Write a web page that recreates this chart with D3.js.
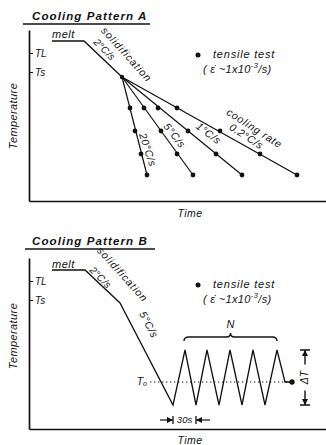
<!DOCTYPE html>
<html>
<head>
<meta charset="utf-8">
<script src="https://cdnjs.cloudflare.com/ajax/libs/d3/7.8.5/d3.min.js"></script>
<style>
  body { margin: 0; background: #fff; }
  svg text { font-family: "Liberation Sans", "DejaVu Sans", sans-serif; font-style: italic; fill: #111; }
  .axis path, .axis line { stroke: #111; }
</style>
</head>
<body>
<svg id="chart" width="326" height="445"></svg>
<script>
// schematic, arbitrary units (no scale on either axis)
var TIME_MAX = 297, TEMP_MAX = 171;

var titles = ["Cooling Pattern A", "Cooling Pattern B"];
var tempTickLabels = ["TL", "Ts"];
var tempTickValues = [148, 129];

// pattern A: melt -> solidification, then branches at different cooling rates
var meltTimesA = [23, 55, 93];
var meltTempsA = [160, 160, 124];
var rateLabelsA = ["20°C/s", "5°C/s", "1°C/s", "0.2°C/s"];
var testTempsA = [93, 70, 47, 26];
var testTimesA = [
    [101, 106, 112, 118],
    [115, 132, 148, 164],
    [129, 159, 187, 213],
    [148, 191, 231, 268]
];

// pattern B: melt -> solidification -> 5°C/s, then thermal cycles about T0
var meltTimesB = [23, 56, 91, 144];
var meltTempsB = [159, 159, 126, 24];
var cycleTimesB = [144, 156, 167, 178, 190, 201, 213, 224, 236, 248, 256, 263];
var cycleTempsB = [24, 79, 24, 79, 24, 79, 24, 79, 24, 79, 47, 47];
var holdTempB = 47;

var svg = d3.select("#chart");
var defs = svg.append("defs");
defs.append("marker")
    .attr("id", "arrow")
    .attr("viewBox", "0 0 8 8")
    .attr("refX", 8).attr("refY", 4)
    .attr("markerWidth", 6).attr("markerHeight", 6)
    .attr("markerUnits", "userSpaceOnUse")
    .attr("orient", "auto-start-reverse")
  .append("path")
    .attr("d", "M0,0 L8,4 L0,8 Z")
    .attr("fill", "#111");

var panels = [
    {top: 30, bottom: 201, titleY: 20, ruleY: 24, ruleX: [23, 150], timeY: 214, tempY: 116},
    {top: 258, bottom: 429, titleY: 245, ruleY: 249, ruleX: [25, 155], timeY: 441, tempY: 336}
];

function zip(ts, Ts) {
    return ts.map(function (t, i) { return [t, Ts[i]]; });
}

function label(g, x, y, text, size, angle, anchor, spacing) {
    return g.append("text")
        .attr("transform", "translate(" + x + "," + y + ") rotate(" + (angle || 0) + ")")
        .attr("text-anchor", anchor || "middle")
        .attr("dominant-baseline", "middle")
        .style("font-size", size + "px")
        .style("letter-spacing", (spacing || 0) + "px")
        .text(text);
}

function drawFrame(p, i) {
    var g = svg.append("g");
    var x = d3.scaleLinear().domain([0, TIME_MAX]).range([29, 326]);
    var y = d3.scaleLinear().domain([0, TEMP_MAX]).range([p.bottom, p.top]);

    g.append("text")
        .attr("x", 32).attr("y", p.titleY)
        .style("font-size", "11.5px")
        .style("font-weight", "bold")
        .style("letter-spacing", "1.1px")
        .text(titles[i]);
    g.append("line")
        .attr("x1", p.ruleX[0]).attr("x2", p.ruleX[1])
        .attr("y1", p.ruleY).attr("y2", p.ruleY)
        .attr("stroke", "#111").attr("stroke-width", 1.4);

    var yAxis = d3.axisRight(y)
        .tickValues(tempTickValues)
        .tickFormat(function (d, k) { return tempTickLabels[k]; })
        .tickSize(4).tickSizeOuter(0).tickPadding(2);
    g.append("g").attr("class", "axis")
        .attr("transform", "translate(" + x(0) + ",0)")
        .call(yAxis)
        .call(function (a) {
            a.select(".domain").attr("stroke-width", 1.7);
            a.selectAll("text").style("font-size", "10px").attr("fill", "#111");
        });

    var xAxis = d3.axisBottom(x).tickValues([]).tickSizeOuter(0);
    g.append("g").attr("class", "axis")
        .attr("transform", "translate(0," + y(0) + ")")
        .call(xAxis)
        .select(".domain").attr("stroke-width", 1.7);

    label(g, 190, p.timeY, "Time", 10.5, 0, "middle", 0.5);
    label(g, 14, p.tempY, "Temperature", 11, -90, "middle", 0.4);
    return {g: g, x: x, y: y};
}

function drawLegend(f, t, T) {
    var g = f.g, x = f.x, y = f.y;
    g.append("circle").attr("cx", x(t)).attr("cy", y(T)).attr("r", 2.5).attr("fill", "#111");
    label(g, x(t) + 15, y(T), "tensile  test", 11, 0, "start", 0.8);
    var eq = label(g, x(t) + 5, y(T) + 15, "( ε̇ ~1x10", 11, 0, "start", 0.3);
    eq.append("tspan").attr("dy", -4).style("font-size", "8px").text("-3");
    eq.append("tspan").attr("dy", 4).text("/s)");
}

var line = function (f) {
    return d3.line().x(function (d) { return f.x(d[0]); }).y(function (d) { return f.y(d[1]); });
};

// ---- Pattern A
var fa = drawFrame(panels[0], 0);
var meltA = zip(meltTimesA, meltTempsA);
var startA = meltA[meltA.length - 1];
fa.g.append("path")
    .attr("d", line(fa)(meltA))
    .attr("fill", "none").attr("stroke", "#111").attr("stroke-width", 1.3);

testTimesA.forEach(function (times, i) {
    var pts = zip(times, testTempsA);
    fa.g.append("path")
        .attr("d", line(fa)([startA, pts[pts.length - 1]]))
        .attr("fill", "none").attr("stroke", "#111").attr("stroke-width", 1.2);
    fa.g.selectAll(null).data(pts).enter().append("circle")
        .attr("cx", function (d) { return fa.x(d[0]); })
        .attr("cy", function (d) { return fa.y(d[1]); })
        .attr("r", 2.4).attr("fill", "#111");
});
fa.g.append("circle").attr("cx", fa.x(startA[0])).attr("cy", fa.y(startA[1])).attr("r", 2.2).attr("fill", "#111");

label(fa.g, fa.x(23), fa.y(166), "melt", 11, 0, "start", 0.5);
label(fa.g, fa.x(97), fa.y(146), "solidification", 10.5, 48, "middle", 0.9);
label(fa.g, fa.x(75), fa.y(151), "2°C/s", 10, 45, "middle", 0.3);
label(fa.g, fa.x(118), fa.y(51), rateLabelsA[0], 10.5, 72, "middle", 0.5);
label(fa.g, fa.x(145), fa.y(65), rateLabelsA[1], 10.5, 52, "middle", 0.5);
label(fa.g, fa.x(179), fa.y(67), rateLabelsA[2], 10.5, 38, "middle", 0.5);
label(fa.g, fa.x(225), fa.y(72), "cooling rate", 10.5, 33, "middle", 0.8);
label(fa.g, fa.x(217), fa.y(64), rateLabelsA[3], 10.5, 33, "middle", 0.5);
drawLegend(fa, 169, 146);

// ---- Pattern B
var fb = drawFrame(panels[1], 1);
var pathB = zip(meltTimesB, meltTempsB).concat(zip(cycleTimesB, cycleTempsB).slice(1));
fb.g.append("path")
    .attr("d", line(fb)(pathB))
    .attr("fill", "none").attr("stroke", "#111").attr("stroke-width", 1.3);
fb.g.append("line")
    .attr("x1", fb.x(121)).attr("x2", fb.x(cycleTimesB[cycleTimesB.length - 1]))
    .attr("y1", fb.y(holdTempB)).attr("y2", fb.y(holdTempB))
    .attr("stroke", "#111").attr("stroke-width", 1.2).attr("stroke-dasharray", "1.3,2.7");
var endB = cycleTimesB[cycleTimesB.length - 1];
fb.g.append("circle").attr("cx", fb.x(endB)).attr("cy", fb.y(holdTempB)).attr("r", 2.7).attr("fill", "#111");

var t0 = label(fb.g, fb.x(118), fb.y(holdTempB), "T", 10.5, 0, "end");
t0.append("tspan").attr("dy", 2).style("font-size", "7px").text("o");

label(fb.g, fb.x(23), fb.y(164), "melt", 11, 0, "start", 0.5);
label(fb.g, fb.x(93), fb.y(154), "solidification", 10.5, 48, "middle", 0.9);
label(fb.g, fb.x(71), fb.y(151), "2°C/s", 10, 45, "middle", 0.3);
label(fb.g, fb.x(119), fb.y(104), "5°C/s", 10.5, 62, "middle", 0.5);
drawLegend(fb, 169, 144);

// brace over the N cycles
var bx0 = fb.x(cycleTimesB[1] - 1), bx1 = fb.x(cycleTimesB[9]), bxm = (bx0 + bx1) / 2;
var by0 = fb.y(88), by1 = fb.y(92), byt = fb.y(96);
fb.g.append("path")
    .attr("d", "M" + bx0 + "," + by0 + " Q" + bx0 + "," + by1 + " " + (bx0 + 5) + "," + by1 +
        " L" + (bxm - 4) + "," + by1 + " Q" + bxm + "," + by1 + " " + bxm + "," + byt +
        " Q" + bxm + "," + by1 + " " + (bxm + 4) + "," + by1 +
        " L" + (bx1 - 5) + "," + by1 + " Q" + bx1 + "," + by1 + " " + bx1 + "," + by0)
    .attr("fill", "none").attr("stroke", "#111").attr("stroke-width", 1.4);
label(fb.g, bxm, fb.y(104), "N", 11);

// delta T bracket
var dx = fb.x(276), dTop = fb.y(79), dBot = fb.y(24);
[[dTop, (dTop + dBot) / 2 - 13], [dBot, (dTop + dBot) / 2 + 13]].forEach(function (s) {
    fb.g.append("line")
        .attr("x1", dx).attr("x2", dx).attr("y1", s[1]).attr("y2", s[0])
        .attr("stroke", "#111").attr("stroke-width", 1.4).attr("marker-end", "url(#arrow)");
    fb.g.append("line")
        .attr("x1", dx - 5).attr("x2", dx + 5).attr("y1", s[0]).attr("y2", s[0])
        .attr("stroke", "#111").attr("stroke-width", 1.5);
});
label(fb.g, dx, (dTop + dBot) / 2, "ΔT", 10.5, -90);

// 30 s period
var py = fb.y(9), ta = fb.x(cycleTimesB[0]), tb = fb.x(cycleTimesB[2]);
[[ta, ta - 13], [tb, tb + 14]].forEach(function (s) {
    fb.g.append("line")
        .attr("x1", s[1]).attr("x2", s[0]).attr("y1", py).attr("y2", py)
        .attr("stroke", "#111").attr("stroke-width", 1.2).attr("marker-end", "url(#arrow)");
    fb.g.append("line")
        .attr("x1", s[0]).attr("x2", s[0]).attr("y1", py - 4).attr("y2", py + 4)
        .attr("stroke", "#111").attr("stroke-width", 1.3);
});
label(fb.g, (ta + tb) / 2, py, "30s", 9.5);
</script>
</body>
</html>
